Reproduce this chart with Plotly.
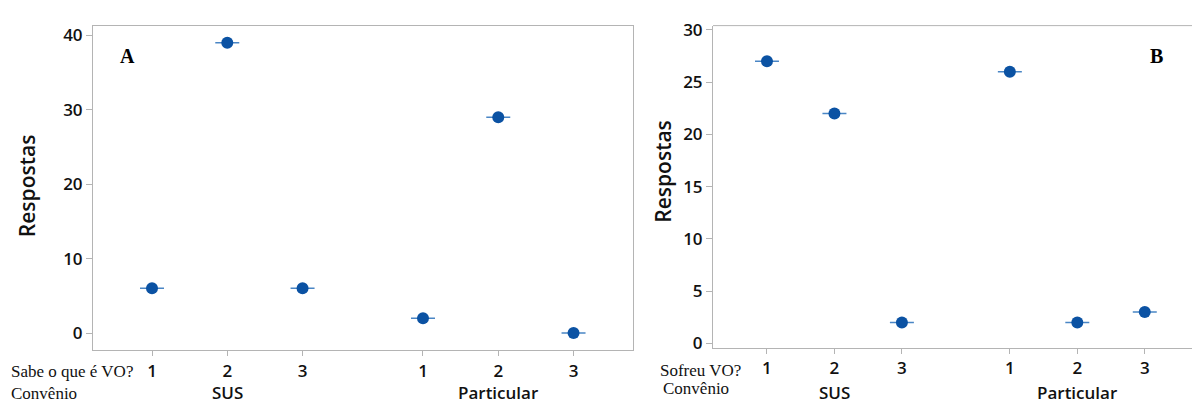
import plotly.graph_objects as go

# ---- data ----
x_positions = [1, 2, 3, 4.6, 5.6, 6.6]
tick_text = ["1", "2", "3", "1", "2", "3"]
groups = ["SUS", "Particular"]
group_centers = [2, 5.6]
respostas_A = [6, 39, 6, 2, 29, 0]
respostas_B = [27, 22, 2, 26, 2, 3]

W, H = 1192, 406
MARK = "#0B52A3"
BAR = "#4A86C5"
TXT = "#111111"
AX = "#b4b4b4"

def px(x):
    return x / W

def py(y):
    return 1 - y / H

fig = go.Figure()

for vals, xa, ya in [(respostas_A, "x", "y"), (respostas_B, "x2", "y2")]:
    fig.add_trace(go.Scatter(
        x=x_positions, y=vals, mode="markers", xaxis=xa, yaxis=ya,
        marker=dict(color=MARK, size=12),
        error_y=dict(type="data", array=[0] * len(vals), visible=True,
                     color=BAR, thickness=1.5, width=12),
        showlegend=False, hoverinfo="y"))

sans = dict(family="Open Sans", size=17, color=TXT, weight=600)
xcommon = dict(tickvals=x_positions, ticktext=tick_text, ticks="outside", ticklen=5,
               tickcolor=AX, showline=True, linecolor=AX, linewidth=1, showgrid=False,
               zeroline=False, tickfont=sans)
ycommon = dict(ticks="outside", ticklen=6, tickcolor=AX, showline=True, linecolor=AX,
               linewidth=1, showgrid=False, zeroline=False, tickfont=sans)

fig.update_layout(
    width=W, height=H,
    margin=dict(l=0, r=0, t=0, b=0),
    paper_bgcolor="white", plot_bgcolor="white",
    xaxis=dict(domain=[px(93), px(633)], range=[0.216, 7.39], anchor="y", mirror=True, **xcommon),
    yaxis=dict(domain=[py(355.5), py(18.3)], range=[-2.33, 41.3], anchor="x", mirror=True,
               tickvals=[0, 10, 20, 30, 40], **ycommon),
    xaxis2=dict(domain=[px(713), 1.0], range=[0.2, 7.30], anchor="y2", **xcommon),
    yaxis2=dict(domain=[py(352.7), py(18.3)], range=[-0.4, 30.4], anchor="x2",
                tickvals=[0, 5, 10, 15, 20, 25, 30], **ycommon),
)

# top border of panel B (right side is cut off in the reference)
fig.add_shape(type="line", xref="paper", yref="paper", x0=px(713), x1=1.0,
              y0=py(18.3), y1=py(18.3), line=dict(color=AX, width=1))

ann = []
for gname, gc in zip(groups, group_centers):
    for xr in ["x", "x2"]:
        ann.append(dict(text=gname, x=gc, xref=xr, y=py(385), yref="paper",
                        showarrow=False, xanchor="center", yanchor="top", font=sans))

serif = dict(family="Liberation Serif", size=17, color=TXT)
title_font = dict(family="Open Sans", size=21, color=TXT, weight=600)
ann += [
    dict(text="Sabe o que é VO?", x=px(9), y=py(377), xanchor="left", yanchor="middle", font=serif),
    dict(text="Convênio", x=px(9), y=py(400), xanchor="left", yanchor="middle", font=serif),
    dict(text="Sofreu VO?", x=px(658), y=py(376), xanchor="left", yanchor="middle", font=serif),
    dict(text="Convênio", x=px(661), y=py(395), xanchor="left", yanchor="middle", font=serif),
    dict(text="Respostas", x=px(27), y=py(185), textangle=-90, xanchor="center", yanchor="middle",
         font=title_font),
    dict(text="Respostas", x=px(663), y=py(170), textangle=-90, xanchor="center", yanchor="middle",
         font=title_font),
    dict(text="<b>A</b>", x=px(127), y=py(50), xanchor="center", yanchor="middle",
         font=dict(family="Liberation Serif", size=20, color="#000")),
    dict(text="<b>B</b>", x=px(1156), y=py(50), xanchor="center", yanchor="middle",
         font=dict(family="Liberation Serif", size=20, color="#000")),
]
for a in ann:
    a.setdefault("xref", "paper")
    a.setdefault("yref", "paper")
    a.setdefault("showarrow", False)
fig.update_layout(annotations=ann)

fig.write_html("out.html")
